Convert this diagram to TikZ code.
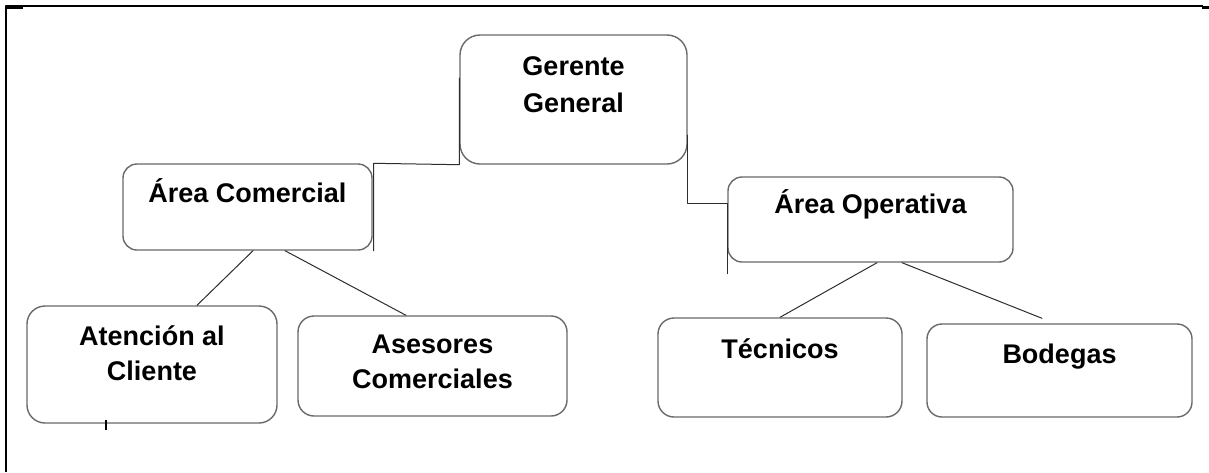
\documentclass[tikz,border=0pt]{standalone}
\usepackage{fontspec}
\setmainfont{Liberation Sans}
\usetikzlibrary{calc}
\definecolor{borde}{RGB}{105,105,105}
\definecolor{linea}{RGB}{45,45,45}
\begin{document}
\begin{tikzpicture}[line join=round, line cap=round, x=1pt, y=-1pt]
\tikzset{caja/.style={draw=borde, line width=1.4pt, rectangle, inner sep=0pt},
texto/.style={anchor=base, align=center, inner sep=0pt, font=\fontsize{27}{37}\selectfont\bfseries},
conector/.style={draw=linea, line width=1pt}}
\useasboundingbox (0,0) rectangle (1209,472);
\draw[line width=2pt, line cap=butt] (6,472)--(6,6)--(1203,6);
\draw[line width=3pt, line cap=butt] (6,7)--(23,7) (1202,7)--(1209,7);
\node[caja, rounded corners=20pt, minimum width=227, minimum height=129] (gerente) at (573.5,99.5) {};
\node[caja, rounded corners=14pt, minimum width=249, minimum height=86] (comercial) at (247.5,207) {};
\node[caja, rounded corners=14pt, minimum width=285, minimum height=85] (operativa) at (870.5,219.5) {};
\node[caja, rounded corners=18pt, minimum width=250, minimum height=117] (atencion) at (152,364.5) {};
\node[caja, rounded corners=16pt, minimum width=269, minimum height=100] (asesores) at (432.5,366) {};
\node[caja, rounded corners=16pt, minimum width=244, minimum height=99] (tecnicos) at (780,367.5) {};
\node[caja, rounded corners=15pt, minimum width=265, minimum height=93] (bodegas) at (1059.5,370.5) {};
\node[texto] (gerente-t) at (573.5,112) {Gerente\\General};
\node[texto] (comercial-t) at (247.5,202) {Área Comercial};
\node[texto] (operativa-t) at (870.5,213) {Área Operativa};
\node[texto, font=\fontsize{27}{35}\selectfont\bfseries] (atencion-t) at (152,380) {Atención al\\Cliente};
\node[texto, font=\fontsize{27}{35}\selectfont\bfseries] (asesores-t) at (432.5,388) {Asesores\\Comerciales};
\node[texto] (tecnicos-t) at (780,358) {Técnicos};
\node[texto] (bodegas-t) at (1059.5,363) {Bodegas};
\draw[conector] ([yshift=21.5pt]gerente.west)--(gerente.south west)--([xshift=1pt]comercial.north east)--([xshift=1pt]comercial.south east);
\draw[conector] ([yshift=-35.5pt]gerente.east)--([yshift=16.5pt]operativa.west -| gerente.east)--([yshift=16.5pt]operativa.west)--([yshift=-11pt]operativa.south west);
\draw[conector] ([xshift=5.5pt]comercial.south)--([xshift=45pt]atencion.north);
\draw[conector] ([xshift=37.5pt]comercial.south)--([xshift=-26.5pt]asesores.north);
\draw[conector] ([xshift=6.5pt]operativa.south)--(tecnicos.north);
\draw[conector] ([xshift=31.5pt]operativa.south)--([xshift=-17.5pt,yshift=5pt]bodegas.north);
\draw[line width=2pt, line cap=butt] ([xshift=-46pt,yshift=4pt]atencion.south)--++(0,10);
\end{tikzpicture}
\end{document}
